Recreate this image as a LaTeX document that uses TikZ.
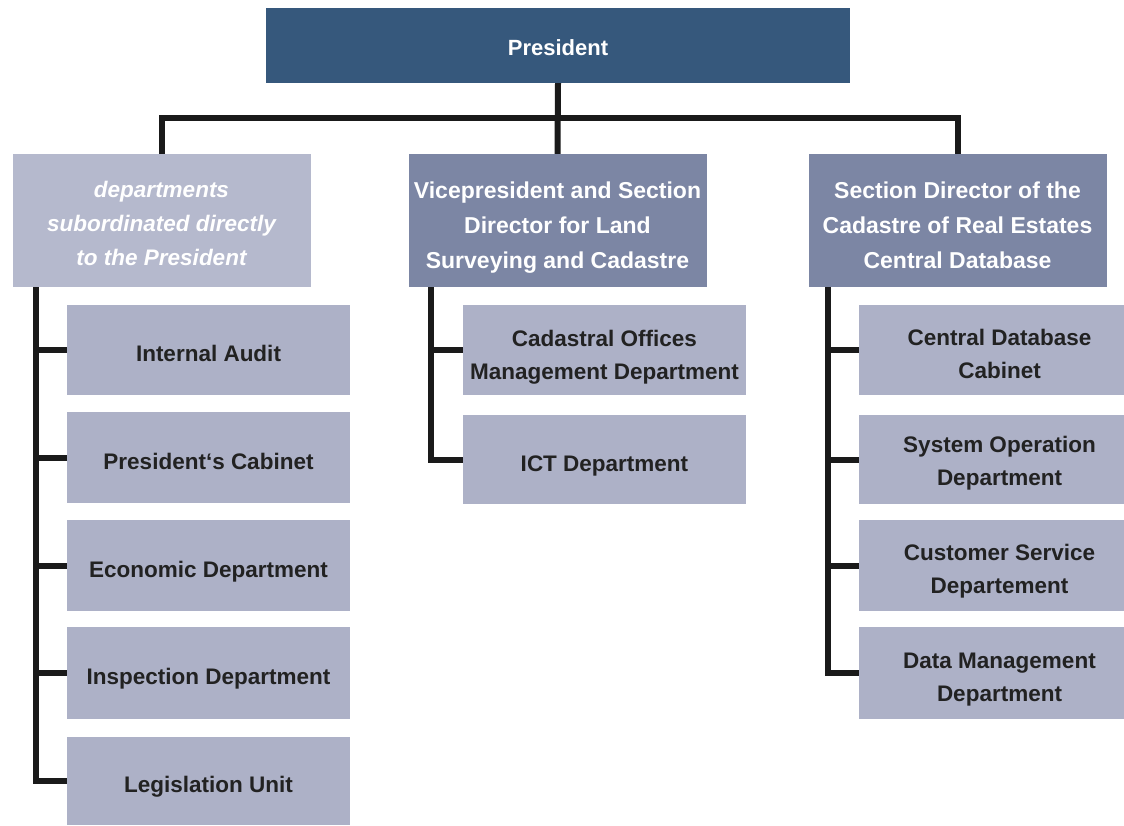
\documentclass[tikz,border=0pt]{standalone}
\usepackage{fontspec}
\setmainfont{Liberation Sans}
\definecolor{presblue}{HTML}{36587C}
\definecolor{hdrdark}{HTML}{7C86A4}
\definecolor{hdrlight}{HTML}{B5B9CD}
\definecolor{childbox}{HTML}{ADB1C7}
\definecolor{linecol}{HTML}{1A1A1A}
\definecolor{childtext}{HTML}{222222}
\tikzset{
  box/.style={inner sep=0pt, align=center, text depth=0pt},
  presbox/.style={box, fill=presblue, text=white, minimum width=584pt, minimum height=75pt,
    execute at begin node={\rule{0pt}{20pt}}, font=\bfseries\fontsize{22}{30}\selectfont},
  hdrbox/.style={box, fill=hdrdark, text=white, minimum width=298pt, minimum height=133pt,
    text height=96pt, font=\bfseries\fontsize{23}{35}\selectfont},
  hdrlightbox/.style={hdrbox, fill=hdrlight, text height=90pt,
    font=\bfseries\itshape\fontsize{22.5}{34}\selectfont},
  childL/.style={box, fill=childbox, text=childtext, minimum width=283pt, minimum height=90pt,
    execute at begin node={\rule{0pt}{23pt}}, font=\bfseries\fontsize{22.5}{33}\selectfont},
  childtwo/.style={box, fill=childbox, text=childtext, minimum width=283pt, minimum height=90pt,
    text height=57pt, font=\bfseries\fontsize{22.5}{33}\selectfont},
  childR/.style={childtwo, minimum width=265pt},
  conn/.style={draw=linecol, line width=6pt},
}
\begin{document}
\begin{tikzpicture}[x=1pt,y=-1pt]
\useasboundingbox (0,0) rectangle (1124,826);
\fill[white] (0,0) rectangle (1124,826);
% top
\node[presbox] (P) at (558,45.5) {President};
\node[hdrlightbox] (L) at (161.5,220.5) {departments\\subordinated directly\\to the President};
\node[hdrbox] (M) at (557.5,220.5) {Vicepresident and Section\\Director for Land\\Surveying and Cadastre};
\node[hdrbox] (R) at (957.5,220.5) {Section Director of the\\Cadastre of Real Estates\\Central Database};
% left children
\node[childL] (L1) at (208.5,350) {Internal Audit};
\node[childL, minimum height=91pt] (L2) at (208.5,457.5) {President‘s Cabinet};
\node[childL, minimum height=91pt] (L3) at (208.5,565.5) {Economic Department};
\node[childL, minimum height=92pt] (L4) at (208.5,673) {Inspection Department};
\node[childL, minimum height=88pt] (L5) at (208.5,781) {Legislation Unit};
% middle children
\node[childtwo, text height=58pt] (M1) at (604.5,350) {Cadastral Offices\\Management Department};
\node[childL, minimum height=89pt] (M2) at (604.5,459.5) {ICT Department};
% right children
\node[childR] (R1) at (991.5,350) {\hspace*{16pt}Central Database\\\hspace*{16pt}Cabinet};
\node[childR, minimum height=89pt, text height=52pt] (R2) at (991.5,459.5) {\hspace*{16pt}System Operation\\\hspace*{16pt}Department};
\node[childR, minimum height=91pt, text height=55pt] (R3) at (991.5,565.5) {\hspace*{16pt}Customer Service\\\hspace*{16pt}Departement};
\node[childR, minimum height=92pt, text height=56pt] (R4) at (991.5,673) {\hspace*{16pt}Data Management\\\hspace*{16pt}Department};
% top connectors
\coordinate (bar) at (0,118);
\draw[conn] (P.south) -- (M.north);
\draw[conn] (L.north) |- (bar -| R.north) -- (R.north);
% left tree
\coordinate (Lx) at (36,0);
\draw[conn] (Lx |- L.south) |- (L5.west);
\foreach \c in {L1,L2,L3,L4} \draw[conn] (Lx |- \c.west) -- (\c.west);
% middle tree
\coordinate (Mx) at (431,0);
\draw[conn] (Mx |- M.south) |- (M2.west);
\draw[conn] (Mx |- M1.west) -- (M1.west);
% right tree
\coordinate (Rx) at (828,0);
\draw[conn] (Rx |- R.south) |- (R4.west);
\foreach \c in {R1,R2,R3} \draw[conn] (Rx |- \c.west) -- (\c.west);
\end{tikzpicture}
\end{document}
